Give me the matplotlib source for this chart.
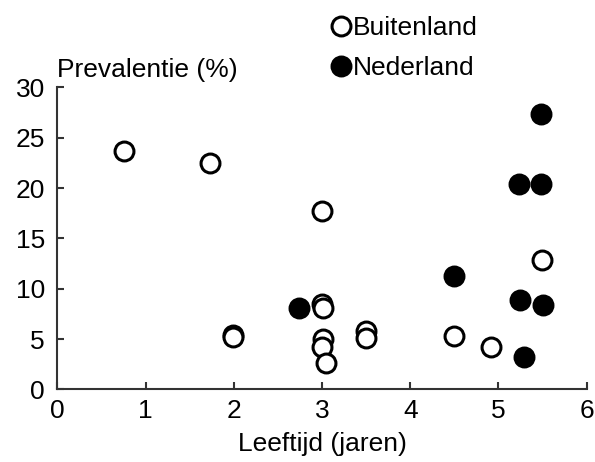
import matplotlib
matplotlib.use("Agg")
import matplotlib.pyplot as plt

plt.rcParams['font.family'] = ['Liberation Sans', 'DejaVu Sans']

buiten_x = [0.75, 1.73, 3.00, 1.99, 1.99, 3.00, 3.01, 3.01, 3.00, 3.04, 3.50, 3.50, 4.50, 4.91, 5.49]
buiten_y = [23.7, 22.5, 17.7, 5.4, 5.2, 8.5, 8.1, 5.0, 4.2, 2.6, 5.8, 5.1, 5.3, 4.2, 12.9]
ned_x = [2.74, 4.50, 5.48, 5.23, 5.48, 5.24, 5.50, 5.29]
ned_y = [8.1, 11.3, 27.4, 20.4, 20.4, 8.9, 8.4, 3.2]

x_ticks = [0, 1, 2, 3, 4, 5, 6]
y_ticks = [0, 5, 10, 15, 20, 25, 30]

FS = 19

fig = plt.figure(figsize=(5.95, 4.62), dpi=100)
ax = fig.add_axes([0.0966, 0.157, 0.8894, 0.654])

ax.plot(buiten_x, buiten_y, 'o', ms=13.6, mfc='white', mec='black', mew=2.2,
        linestyle='none', label='Buitenland', zorder=3, clip_on=False)
ax.plot(ned_x, ned_y, 'o', ms=13.6, mfc='black', mec='black', mew=2.2,
        linestyle='none', label='Nederland', zorder=3, clip_on=False)

ax.set_xlim(0, 6)
ax.set_ylim(0, 30)
ax.set_xticks(x_ticks)
ax.set_yticks(y_ticks)
ax.spines['top'].set_visible(False)
ax.spines['right'].set_visible(False)
for s in ['left', 'bottom']:
    ax.spines[s].set_linewidth(1.5)
    ax.spines[s].set_color('#333333')
ax.tick_params(direction='in', length=5, width=1.5, color='#333333',
               labelsize=FS)
ax.tick_params(axis='y', pad=9)
ax.tick_params(axis='x', pad=7)
ax.set_xlabel('Leeftijd (jaren)', fontsize=FS, labelpad=6)
fig.text(0.096, 0.8333, 'Prevalentie (%)', fontsize=FS, ha='left', va='baseline')

fig.legend(loc='center left', bbox_to_anchor=(0.516, 0.896), frameon=False,
           fontsize=FS, handletextpad=0.05, labelspacing=0.6, handlelength=0.8,
           markerscale=1.0)

fig.savefig('out.png', dpi=100)
